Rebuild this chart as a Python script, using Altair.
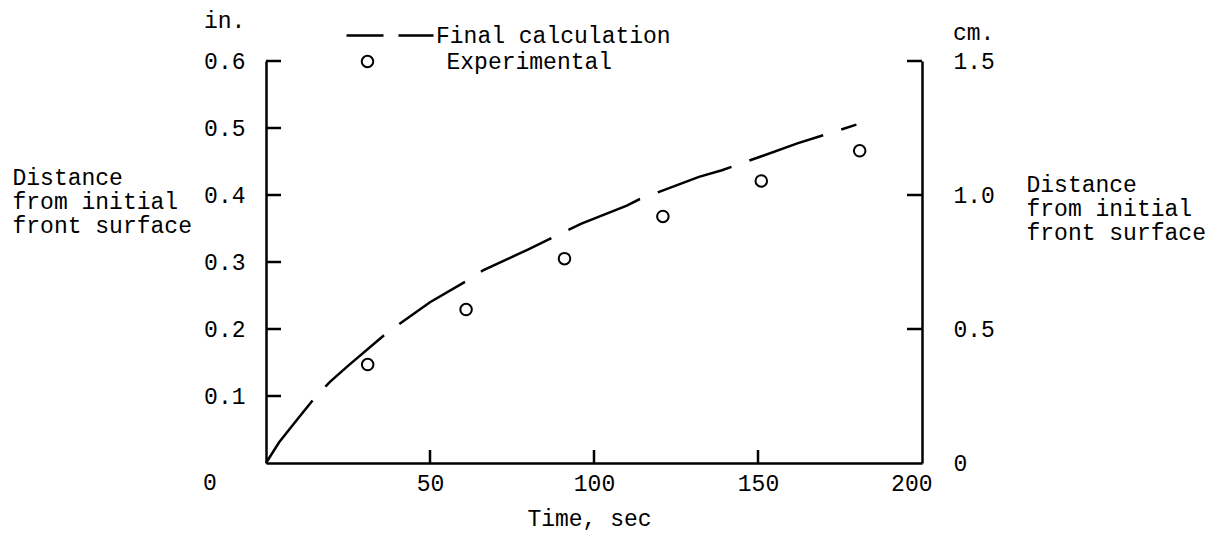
import altair as alt
import pandas as pd

# ---- data ----
calc_t = [0, 4, 10, 15.5, 19.5, 25, 37, 50, 62, 66, 80, 96, 110, 114, 132, 139, 150, 162, 171, 180]
calc_y = [0, 0.031, 0.068, 0.101, 0.121, 0.145, 0.195, 0.240, 0.274, 0.287, 0.319,
          0.357, 0.384, 0.394, 0.427, 0.437, 0.456, 0.477, 0.491, 0.505]
exp_t = [31, 61, 91, 121, 151, 181]
exp_y = [0.147, 0.229, 0.305, 0.368, 0.421, 0.466]

x_tick_vals = [50, 100, 150]
x_label_vals = [50, 100, 150, 200]
in_tick_vals = [0.1, 0.2, 0.3, 0.4, 0.5, 0.6]
cm_tick_vals = [0.5, 1.0, 1.5]
cm_label_vals = [0, 0.5, 1.0, 1.5]

y_title_lines = ["Distance", "from initial", "front surface"]
x_title = "Time, sec"

FONT = "Liberation Mono"
FS = 23
LW = 2.5

xscale = alt.Scale(domain=[0, 200], nice=False, zero=False)
yscale = alt.Scale(domain=[0, 0.6], nice=False)
cmscale = alt.Scale(domain=[0, 1.5], nice=False)

calc = pd.DataFrame({"t": calc_t, "d": calc_y, "series": "Final calculation"})
exp = pd.DataFrame({"t": exp_t, "d": exp_y, "series": "Experimental"})
lticks = pd.DataFrame({"t": 0, "d": in_tick_vals})
bticks = pd.DataFrame({"t": x_tick_vals, "d": 0})
rticks = pd.DataFrame({"t": 200, "cm": cm_tick_vals})
origin = pd.DataFrame({"t": [0], "d": [0], "txt": ["0"]})
in_unit = pd.DataFrame({"t": [0], "d": [0.6], "txt": ["in."]})
cm_unit = pd.DataFrame({"t": [200], "cm": [1.5], "txt": ["cm."]})

x_axis = alt.Axis(values=x_label_vals, ticks=False, grid=False,
                  domainWidth=LW, domainColor="black",
                  labelFont=FONT, labelFontSize=FS, labelColor="black", labelPadding=9,
                  labelFlushOffset=10,
                  title=x_title, titleFont=FONT, titleFontSize=FS, titleFontWeight="normal",
                  titleColor="black", titleX=323, titleY=62, titleBaseline="alphabetic",
                  titleAlign="center")

y_axis = alt.Axis(orient="left", values=in_tick_vals, format=".1f", ticks=False, grid=False,
                  domainWidth=LW, domainColor="black",
                  labelFont=FONT, labelFontSize=FS, labelColor="black", labelPadding=21,
                  title=y_title_lines, titleFont=FONT, titleFontSize=FS,
                  titleFontWeight="normal", titleColor="black", titleAngle=0,
                  titleAlign="left", titleBaseline="alphabetic", titleLineHeight=24,
                  titleX=-254, titleY=123)

cm_axis = alt.Axis(orient="right", values=cm_label_vals, ticks=False, grid=False,
                   labelExpr="datum.value == 0 ? '0' : format(datum.value, '.1f')",
                   domainWidth=LW, domainColor="black",
                   labelFont=FONT, labelFontSize=FS, labelColor="black", labelPadding=31,
                   title=y_title_lines, titleFont=FONT, titleFontSize=FS,
                   titleFontWeight="normal", titleColor="black", titleAngle=0,
                   titleAlign="left", titleBaseline="alphabetic", titleLineHeight=24,
                   titleX=104, titleY=130)

X = alt.X("t:Q", scale=xscale, axis=x_axis)
Y = alt.Y("d:Q", scale=yscale, axis=y_axis)
YCM = alt.Y("cm:Q", scale=cmscale, axis=cm_axis)

line = alt.Chart(calc).mark_line(strokeWidth=LW, strokeDash=[78, 19], strokeCap="butt",
                                 color="black").encode(
    x=X, y=Y,
    color=alt.Color("series:N", scale=alt.Scale(domain=["Final calculation"], range=["black"]),
                    legend=alt.Legend(orient="none", legendX=79, legendY=-70.5, title=None,
                                      padding=0, symbolType="stroke", symbolSize=7569,
                                      symbolStrokeWidth=LW, symbolDash=[37, 15],
                                      symbolStrokeColor="black", labelLimit=600,
                                      labelOffset=1, labelFont=FONT, labelFontSize=FS,
                                      labelColor="black")),
)

points = alt.Chart(exp).mark_point(shape="circle", filled=False, size=133, strokeWidth=2,
                                   color="black", opacity=1).encode(
    x=X, y=Y,
    shape=alt.Shape("series:N", scale=alt.Scale(domain=["Experimental"], range=["circle"]),
                    legend=alt.Legend(orient="none", legendX=90, legendY=-11, title=None,
                                      padding=0, symbolSize=133, symbolStrokeWidth=2,
                                      symbolStrokeColor="black", symbolFillColor="white",
                                      labelLimit=600,
                                      labelOffset=67.5, labelFont=FONT, labelFontSize=FS,
                                      labelColor="black")),
)

left_ticks = alt.Chart(lticks).mark_tick(orient="horizontal", size=15, thickness=LW,
                                         xOffset=7.5, color="black", opacity=1).encode(x=X, y=Y)

bottom_ticks = alt.Chart(bticks).mark_tick(orient="vertical", size=13, thickness=LW,
                                           yOffset=-6.5, color="black", opacity=1).encode(x=X, y=Y)

origin_txt = alt.Chart(origin).mark_text(font=FONT, fontSize=FS, dx=-56, dy=20,
                                         align="center", baseline="middle", color="black").encode(
    x=X, y=Y, text="txt:N")

in_txt = alt.Chart(in_unit).mark_text(font=FONT, fontSize=FS, dx=-62, dy=-40,
                                      align="left", baseline="middle", color="black").encode(
    x=X, y=Y, text="txt:N")

right_ticks = alt.Chart(rticks).mark_tick(orient="horizontal", size=15, thickness=LW,
                                          xOffset=-7.5, color="black", opacity=1).encode(x=X, y=YCM)

cm_txt = alt.Chart(cm_unit).mark_text(font=FONT, fontSize=FS, dx=31, dy=-28,
                                      align="left", baseline="middle", color="black").encode(
    x=X, y=YCM, text="txt:N")

left_layer = alt.layer(line, points, left_ticks, bottom_ticks, origin_txt, in_txt)
right_layer = alt.layer(right_ticks, cm_txt)

chart = alt.layer(left_layer, right_layer).resolve_scale(y="independent").properties(
    width=656, height=402, autosize="none",
    padding={"left": 258, "top": 53, "right": 287, "bottom": 68},
    background="white",
).configure_view(stroke=None)

chart.save("out.html", embed_options={"renderer": "svg", "actions": False})
